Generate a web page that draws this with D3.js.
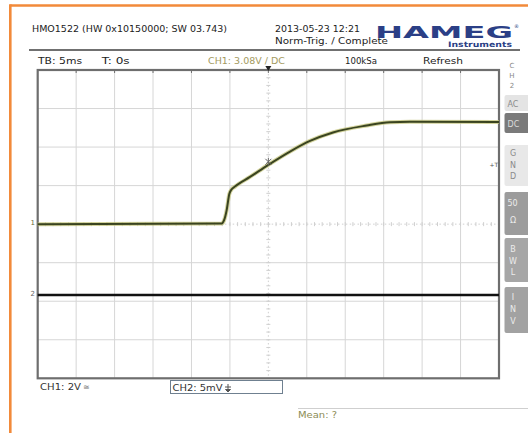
<!DOCTYPE html>
<html>
<head>
<meta charset="utf-8">
<script src="https://cdn.jsdelivr.net/npm/d3@7/dist/d3.min.js"></script>
<style>
  html, body { margin: 0; padding: 0; background: #fff; }
  svg { display: block; font-family: "DejaVu Sans", sans-serif; }
</style>
</head>
<body>
<svg id="scope" width="528" height="433"></svg>
<script>
// CH1 step response (time in ms relative to trigger, voltage in V)
const ch1Time    = [-30, -6.07, -5.77, -5.42, -5.08, -4.79, -4.34, -2.39, 0, 2.82, 5.42, 8.41, 12.79, 15.82, 18.42, 30];
const ch1Volts   = [0, 0.03, 0.19, 0.73, 1.56, 1.80, 1.95, 2.45, 3.08, 3.77, 4.32, 4.76, 5.12, 5.29, 5.32, 5.30];
// CH2 (mV), flat
const ch2Time    = [-30, 30];
const ch2MilliV  = [0, 0];
// Grid: 12 horizontal divisions of 5 ms, 8 vertical divisions of 2 V
const timeTicks  = [-30, -25, -20, -15, -10, -5, 0, 5, 10, 15, 20, 25, 30];
const voltTicks  = [-8, -6, -4, -2, 0, 2, 4, 6, 8];
const triggerLevel = 3.08;
const ch2OffsetDiv = -1.84;
// Status texts
const headerTexts = ["HMO1522 (HW 0x10150000; SW 03.743)", "2013-05-23 12:21", "Norm-Trig. / Complete"];
const statusTexts = ["TB: 5ms", "T: 0s", "CH1: 3.08V / DC", "100kSa", "Refresh"];
const sideMenu = [
  { letters: ["AC"], base: [107], y0: 95, y1: 111, fill: "#e4e4e4", color: "#8a8a8a" },
  { letters: ["DC"], base: [127], y0: 113, y1: 133, fill: "#7a7a7a", color: "#dcdcdc" },
  { letters: ["G", "N", "D"], base: [156, 167.5, 179], y0: 145, y1: 186, fill: "#e8e8e8", color: "#8a8a8a" },
  { letters: ["50", "Ω"], base: [206, 223], y0: 192, y1: 235, fill: "#9c9c9c", color: "#ececec" },
  { letters: ["B", "W", "L"], base: [252, 263.5, 275], y0: 238, y1: 282, fill: "#a6a6a6", color: "#ececec" },
  { letters: ["I", "N", "V"], base: [300, 312, 324], y0: 287, y1: 333, fill: "#a2a2a2", color: "#ececec" }
];

const svg = d3.select("#scope");
const L = 37.7, R = 499, T = 70, B = 378.3;

const x = d3.scaleLinear().domain([-30, 30]).range([L, R]);
const y = d3.scaleLinear().domain([-8, 8]).range([B, T]);
const y2 = d3.scaleLinear()
  .domain([(-4 - ch2OffsetDiv) * 5, (4 - ch2OffsetDiv) * 5])
  .range([B, T]);

// orange page border
svg.append("line").attr("x1", 10.3).attr("x2", 528).attr("y1", 5.5).attr("y2", 5.5)
  .attr("stroke", "#f28a3a").attr("stroke-width", 2.6);
svg.append("line").attr("x1", 10.3).attr("x2", 10.3).attr("y1", 4.2).attr("y2", 433)
  .attr("stroke", "#f28a3a").attr("stroke-width", 2.6);

// header
svg.append("text").attr("x", 32).attr("y", 32).attr("font-size", 9).attr("fill", "#222")
  .attr("textLength", 195).attr("lengthAdjust", "spacingAndGlyphs").text(headerTexts[0]);
svg.append("text").attr("x", 275).attr("y", 32).attr("font-size", 9).attr("fill", "#222")
  .attr("textLength", 85).attr("lengthAdjust", "spacingAndGlyphs").text(headerTexts[1]);
svg.append("text").attr("x", 275).attr("y", 43.5).attr("font-size", 9).attr("fill", "#222")
  .attr("textLength", 113).attr("lengthAdjust", "spacingAndGlyphs").text(headerTexts[2]);

// logo
svg.append("text").attr("x", 375).attr("y", 37.5).attr("font-size", 16.5).attr("font-weight", 900)
  .attr("fill", "#2b3f86").attr("textLength", 138).attr("lengthAdjust", "spacingAndGlyphs").text("HAMEG");
svg.append("text").attr("x", 514).attr("y", 28).attr("font-size", 5).attr("fill", "#2b3f86").text("®");
svg.append("text").attr("x", 448).attr("y", 47.3).attr("font-size", 7.5).attr("font-weight", "bold")
  .attr("fill", "#2b3f86").attr("textLength", 64).attr("lengthAdjust", "spacingAndGlyphs").text("Instruments");

svg.append("line").attr("x1", 29).attr("x2", 520).attr("y1", 50).attr("y2", 50)
  .attr("stroke", "#707070").attr("stroke-width", 2);

// status row
const statusPos = [
  { x: 38, w: 44, c: "#222" }, { x: 101.7, w: 28, c: "#222" }, { x: 208, w: 77, c: "#a39a5e" },
  { x: 345, w: 32, c: "#222" }, { x: 423, w: 40, c: "#222" }
];
statusTexts.forEach((t, i) => {
  svg.append("text").attr("x", statusPos[i].x).attr("y", 63.5).attr("font-size", 9)
    .attr("fill", statusPos[i].c).attr("textLength", statusPos[i].w)
    .attr("lengthAdjust", "spacingAndGlyphs").text(t);
});

// grid
const grid = svg.append("g");
grid.selectAll("line.v").data(timeTicks.filter(t => t !== 0 && t > -30 && t < 30)).join("line")
  .attr("x1", d => x(d)).attr("x2", d => x(d)).attr("y1", T).attr("y2", B)
  .attr("stroke", "#d6d6d6").attr("stroke-width", 1);
grid.selectAll("line.h").data(voltTicks.filter(v => v !== 0 && v > -8 && v < 8)).join("line")
  .attr("x1", L).attr("x2", R).attr("y1", d => y(d)).attr("y2", d => y(d))
  .attr("stroke", "#d6d6d6").attr("stroke-width", 1);

// center axes with minor ticks
grid.append("line").attr("x1", x(0)).attr("x2", x(0)).attr("y1", T).attr("y2", B)
  .attr("stroke", "#d0d0d0").attr("stroke-width", 1).attr("stroke-dasharray", "1.5,2.4");
grid.append("line").attr("x1", L).attr("x2", R).attr("y1", y(0)).attr("y2", y(0))
  .attr("stroke", "#d0d0d0").attr("stroke-width", 1).attr("stroke-dasharray", "1.5,2.4");
const minorT = d3.range(-30, 30.01, 1);
const minorV = d3.range(-8, 8.01, 0.4);
grid.selectAll("line.mt").data(minorT).join("line")
  .attr("x1", d => x(d)).attr("x2", d => x(d)).attr("y1", y(0) - 2).attr("y2", y(0) + 2)
  .attr("stroke", "#cfcfcf").attr("stroke-width", 1);
grid.selectAll("line.mv").data(minorV).join("line")
  .attr("x1", x(0) - 2).attr("x2", x(0) + 2).attr("y1", d => y(d)).attr("y2", d => y(d))
  .attr("stroke", "#cfcfcf").attr("stroke-width", 1);

// frame
svg.append("rect").attr("x", L).attr("y", T).attr("width", R - L).attr("height", B - T)
  .attr("fill", "none").attr("stroke", "#6e6e6e").attr("stroke-width", 2.2);
svg.selectAll("line.ft").data(timeTicks.slice(1, -1)).join("line")
  .attr("x1", d => x(d)).attr("x2", d => x(d)).attr("y1", T).attr("y2", T + 3)
  .attr("stroke", "#6e6e6e").attr("stroke-width", 1);

// trigger position marker at top
svg.append("path")
  .attr("d", `M${x(0) - 3},${T - 4} L${x(0) + 3},${T - 4} L${x(0)},${T + 1} Z`)
  .attr("fill", "#222");

// CH2 trace
const ch2Data = ch2Time.map((t, i) => [t, ch2MilliV[i]]);
svg.append("path").datum(ch2Data)
  .attr("d", d3.line().x(d => x(d[0])).y(d => y2(d[1])))
  .attr("stroke", "#111").attr("stroke-width", 2.6).attr("fill", "none");

// CH1 trace
const ch1Data = ch1Time.map((t, i) => [t, ch1Volts[i]]);
const ch1Line = d3.line().x(d => x(d[0])).y(d => y(d[1])).curve(d3.curveMonotoneX);
svg.append("path").datum(ch1Data).attr("d", ch1Line)
  .attr("stroke", "#c4c47c").attr("stroke-width", 4).attr("fill", "none").attr("opacity", 0.75)
  .attr("stroke-linejoin", "round");
svg.append("path").datum(ch1Data).attr("d", ch1Line)
  .attr("stroke", "#3a4420").attr("stroke-width", 2).attr("fill", "none")
  .attr("stroke-linejoin", "round");

// trigger point marker
const tx = x(0), ty = y(triggerLevel) - 3;
svg.append("path")
  .attr("d", `M${tx - 3},${ty - 3} L${tx + 3},${ty + 3} M${tx - 3},${ty + 3} L${tx + 3},${ty - 3} M${tx},${ty - 4} L${tx},${ty + 4}`)
  .attr("stroke", "#666").attr("stroke-width", 1);
svg.append("text").attr("x", 489.5).attr("y", y(triggerLevel) + 2).attr("font-size", 6)
  .attr("fill", "#555").text("+T");

// channel offset markers
svg.append("text").attr("x", 30.5).attr("y", y(0) + 1).attr("font-size", 7).attr("fill", "#6b6b3a").text("1");
svg.append("text").attr("x", 30.5).attr("y", y2(0) + 1).attr("font-size", 7).attr("fill", "#666").text("2");

// side menu
const side = svg.append("g");
side.selectAll("text.ch").data(["C", "H", "2"]).join("text")
  .attr("x", 512).attr("y", (d, i) => 68 + i * 10).attr("font-size", 7)
  .attr("fill", "#888").attr("text-anchor", "middle").text(d => d);
sideMenu.forEach(m => {
  side.append("rect").attr("x", 504.5).attr("y", m.y0).attr("width", 30).attr("height", m.y1 - m.y0)
    .attr("rx", 2).attr("fill", m.fill);
  m.letters.forEach((l, i) => {
    side.append("text").attr("x", l.length > 1 ? 507.5 : 513).attr("y", m.base[i])
      .attr("font-size", 8).attr("fill", m.color)
      .attr("text-anchor", l.length > 1 ? "start" : "middle").text(l);
  });
});

// bottom status
svg.append("text").attr("x", 40).attr("y", 390).attr("font-size", 9).attr("fill", "#333")
  .attr("textLength", 41).attr("lengthAdjust", "spacingAndGlyphs").text("CH1: 2V");
svg.append("text").attr("x", 83).attr("y", 390).attr("font-size", 8).attr("fill", "#777").text("≅");
svg.append("rect").attr("x", 170.5).attr("y", 380.5).attr("width", 112).attr("height", 13)
  .attr("fill", "#fff").attr("stroke", "#6f8090").attr("stroke-width", 1);
svg.append("text").attr("x", 172.5).attr("y", 390.5).attr("font-size", 9).attr("fill", "#333")
  .attr("textLength", 50).attr("lengthAdjust", "spacingAndGlyphs").text("CH2: 5mV");
// ground/coupling glyph
svg.append("path").attr("d", "M228,384 L228,390 M225,387 L231,387 M225.5,389.5 L230.5,389.5 L228,392 Z")
  .attr("stroke", "#555").attr("stroke-width", 1).attr("fill", "#555");

svg.append("line").attr("x1", 298).attr("x2", 528).attr("y1", 408.5).attr("y2", 408.5)
  .attr("stroke", "#cfcfcf").attr("stroke-width", 1);
svg.append("text").attr("x", 298).attr("y", 418).attr("font-size", 9).attr("fill", "#8c8c55")
  .attr("textLength", 39).attr("lengthAdjust", "spacingAndGlyphs").text("Mean: ?");
</script>
</body>
</html>
